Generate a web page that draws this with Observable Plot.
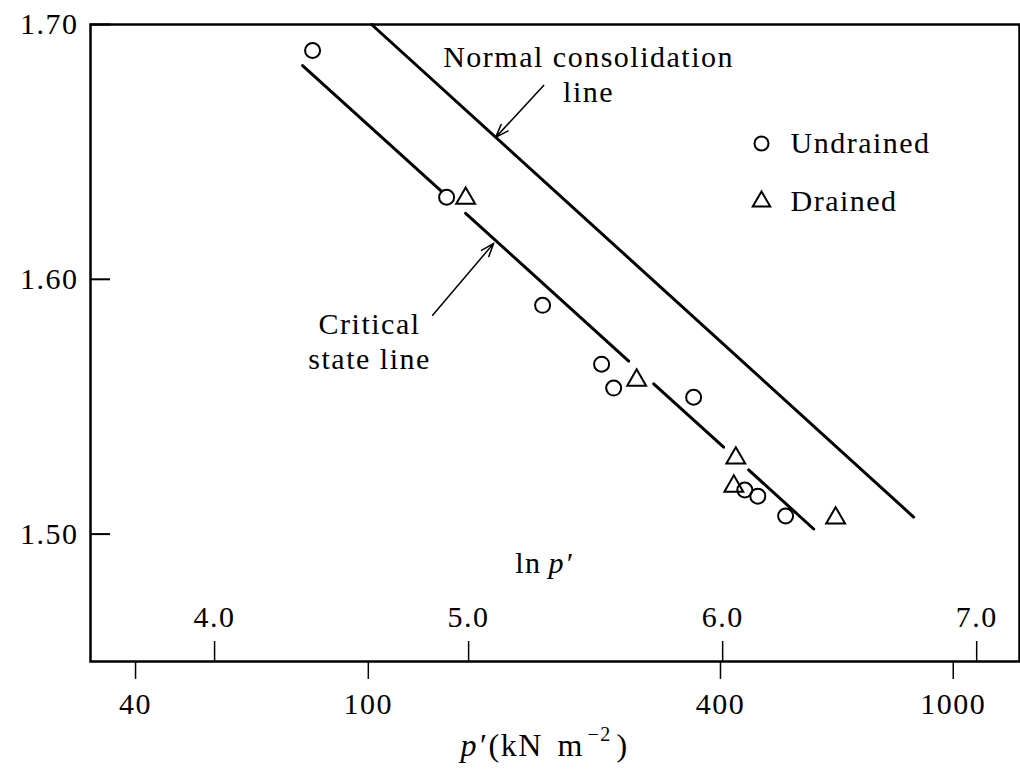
<!DOCTYPE html>
<html><head><meta charset="utf-8">
<script src="https://cdn.jsdelivr.net/npm/d3@7"></script>
<script src="https://cdn.jsdelivr.net/npm/@observablehq/plot@0.6"></script>
<style>html,body{margin:0;padding:0;background:#fff} #chart svg{display:block}</style>
</head><body><div id="chart"></div>
<script>
// ---- data ----
const undrainedP = [80.3, 136.1, 198.6, 250.5, 262.7, 359.9, 440.2, 463.3, 516.9];
const undrainedV = [1.6898, 1.6322, 1.5898, 1.5667, 1.5573, 1.5537, 1.5173, 1.5149, 1.5071];
const drainedP = [146.7, 287.6, 424.9, 421.6, 629.4];
const drainedV = [1.6318, 1.5604, 1.5298, 1.5188, 1.5063];
const nclP = [101.3, 855.6];
const nclV = [1.70, 1.5067];
// critical state line drawn as broken segments (pairs of end points)
const cslP = [77.2, 133, 146.7, 278.7, 307.5, 405, 446.9, 577.3];
const cslV = [1.6839, 1.6348, 1.6259, 1.5679, 1.5590, 1.5341, 1.5252, 1.5020];
const pTicks = [40, 100, 400, 1000];
const lnTicks = [4.0, 5.0, 6.0, 7.0];
const vTicks = [1.50, 1.60, 1.70];
const legendLabels = ["Undrained", "Drained"];
const legendSymbols = ["circle", "triangle"];
const annoTexts = ["Normal consolidation\nline", "Critical\nstate line"];
const annoP = [238.0, 100.5];
const annoV = [1.681, 1.5761];
const arrowFromP = [199.4, 128.8];
const arrowFromV = [1.6761, 1.5859];
const arrowToP = [165.1, 163.8];
const arrowToV = [1.6557, 1.6141];

// ---- layout ----
const W = 1020, H = 772;
const mL = 90, mT = 24, mR = 1, mB = 111;
const fw = W - mL - mR, fh = H - mT - mB;
const serif = "'Liberation Serif', 'Times New Roman', serif";
const FS = 30;

const undrained = undrainedP.map((p, i) => ({p, v: undrainedV[i]}));
const drained = drainedP.map((p, i) => ({p, v: drainedV[i]}));
const ncl = nclP.map((p, i) => ({p, v: nclV[i]}));
const csl = cslP.map((p, i) => ({p, v: cslV[i], seg: Math.floor(i / 2)}));
const annos = annoTexts.map((t, i) => ({t, p: annoP[i], v: annoV[i]}));
const arrows = arrowFromP.map((p, i) => ({p1: p, v1: arrowFromV[i], p2: arrowToP[i], v2: arrowToV[i]}));

const legendMarks = legendLabels.flatMap((lab, i) => [
  Plot.dot([lab], {frameAnchor: "top-left", dx: 671, dy: 119 + i * 58, symbol: legendSymbols[i],
    r: legendSymbols[i] === "circle" ? 7 : 6.5, stroke: "black", strokeWidth: 2, fill: "none"}),
  Plot.text([lab], {frameAnchor: "top-left", dx: 700, dy: 119 + i * 58, text: d => d,
    textAnchor: "start", lineAnchor: "middle", fontSize: FS, fill: "black"})
]);

const txt = (s, opts) => Plot.text([s], {text: d => d, lineAnchor: "middle", textAnchor: "start", fontSize: FS, ...opts});

const chart = Plot.plot({
  width: W, height: H,
  marginLeft: mL, marginTop: mT, marginRight: mR, marginBottom: mB,
  style: {fontFamily: serif, fontSize: FS + "px", letterSpacing: "1.5px", color: "black", background: "white", overflow: "visible"},
  x: {type: "log", domain: [33.5, 1298]},
  y: {domain: [1.45, 1.70]},
  marks: [
    Plot.frame({stroke: "black", strokeWidth: 2.5}),
    // left axis: labels + inward ticks
    Plot.axisY({ticks: vTicks, tickSize: 0, tickPadding: 12, tickFormat: d3.format(".2f"), fontSize: FS, label: null}),
    Plot.tickY(vTicks, {y: d => d, insetRight: fw - 20, stroke: "black", strokeWidth: 2}),
    // bottom p' axis (outward ticks)
    Plot.axisX({ticks: pTicks, tickSize: 18, tickPadding: 13, tickFormat: d => String(d), fontSize: FS, label: null, strokeWidth: 1.5}),
    // ln p' scale (inward ticks)
    Plot.tickX(lnTicks, {x: d => Math.exp(d), insetTop: fh - 20, stroke: "black", strokeWidth: 1.5}),
    Plot.text(lnTicks, {x: d => Math.exp(d), frameAnchor: "bottom", dy: -44, lineAnchor: "middle", text: d => d.toFixed(1), fontSize: FS}),
    txt("ln", {frameAnchor: "bottom-left", dx: 451, dy: -98, textAnchor: "end"}),
    txt("p′", {frameAnchor: "bottom-left", dx: 458, dy: -98, fontStyle: "italic"}),
    // axis title p'(kN m^-2)
    txt("p′", {frameAnchor: "bottom-left", dx: 370, dy: 84, fontStyle: "italic", fontSize: 32}),
    txt("(kN", {frameAnchor: "bottom-left", dx: 398, dy: 84, fontSize: 32}),
    txt("m", {frameAnchor: "bottom-left", dx: 467, dy: 84, fontSize: 32}),
    txt("−2", {frameAnchor: "bottom-left", dx: 497, dy: 73, fontSize: 20, style: "letter-spacing:0"}),
    txt(")", {frameAnchor: "bottom-left", dx: 526, dy: 84, fontSize: 32}),
    // lines
    Plot.line(ncl, {x: "p", y: "v", stroke: "black", strokeWidth: 3}),
    Plot.line(csl, {x: "p", y: "v", z: "seg", stroke: "black", strokeWidth: 3}),
    // points
    Plot.dot(undrained, {x: "p", y: "v", symbol: "circle", r: 7.5, stroke: "black", strokeWidth: 2, fill: "none"}),
    Plot.dot(drained, {x: "p", y: "v", symbol: "triangle", r: 7, stroke: "black", strokeWidth: 2, fill: "none"}),
    // annotations
    Plot.text(annos, {x: "p", y: "v", text: "t", textAnchor: "middle", lineHeight: 1.17, fontSize: FS}),
    Plot.arrow(arrows, {x1: "p1", y1: "v1", x2: "p2", y2: "v2", stroke: "black", strokeWidth: 1.5, headLength: 14, headAngle: 40}),
    ...legendMarks
  ]
});
document.getElementById("chart").append(chart);
</script>
</body></html>
